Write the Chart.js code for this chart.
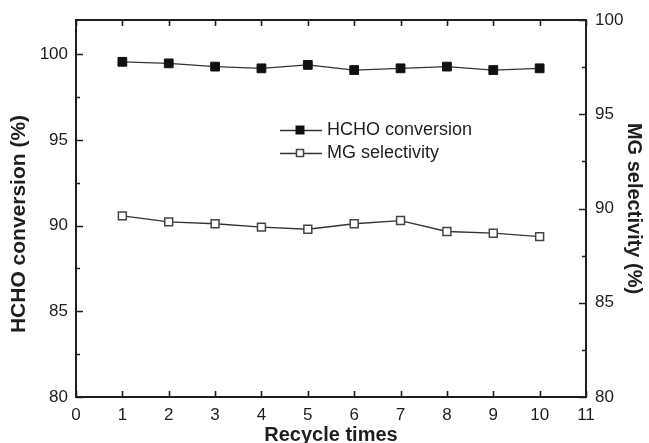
<!DOCTYPE html>
<html lang="en">
<head>
<meta charset="UTF-8">
<title>HCHO conversion / MG selectivity vs recycle times</title>
<script src="https://cdn.jsdelivr.net/npm/chart.js"></script>
<style>
  body { margin: 0; background: #fff; }
  canvas { display: block; }
</style>
</head>
<body>
<canvas id="grafico" width="649" height="443"></canvas>

<script>
  // data
  const recycles = [1, 2, 3, 4, 5, 6, 7, 8, 9, 10];
  const hchoConversion = [99.56, 99.47, 99.28, 99.18, 99.38, 99.08, 99.18, 99.28, 99.08, 99.18];
  const mgSelectivity = [89.61, 89.29, 89.19, 89.01, 88.90, 89.19, 89.36, 88.78, 88.69, 88.51];

  const xTicks = [0, 1, 2, 3, 4, 5, 6, 7, 8, 9, 10, 11];
  const leftTicks = [80, 85, 90, 95, 100];
  const rightTicks = [80, 85, 90, 95, 100];
  const minorTicks = [82.5, 87.5, 92.5, 97.5];

  const ink = '#1e1e1e';
  Chart.defaults.font.family = '"Liberation Sans", Arial, sans-serif';
  Chart.defaults.color = ink;

  const pts = (ys) => recycles.map((x, i) => ({ x: x, y: ys[i] }));

  // frame + inward ticks (like origin plots)
  const frameTicks = {
    id: 'frameTicks',
    afterDraw(chart) {
      const { ctx, chartArea: a, scales } = chart;
      ctx.save();
      ctx.strokeStyle = ink;
      ctx.lineWidth = 1.6;
      ctx.beginPath();
      xTicks.forEach(v => {
        const px = Math.round(scales.x.getPixelForValue(v)) + 0.5;
        ctx.moveTo(px, a.bottom); ctx.lineTo(px, a.bottom - 6);
        ctx.moveTo(px, a.top); ctx.lineTo(px, a.top + 6);
      });
      leftTicks.forEach(v => {
        const py = Math.round(scales.y.getPixelForValue(v)) + 0.5;
        ctx.moveTo(a.left, py); ctx.lineTo(a.left + 7, py);
      });
      rightTicks.forEach(v => {
        const py = Math.round(scales.y1.getPixelForValue(v)) + 0.5;
        ctx.moveTo(a.right, py); ctx.lineTo(a.right - 7, py);
      });
      minorTicks.forEach(v => {
        const pl = Math.round(scales.y.getPixelForValue(v)) + 0.5;
        ctx.moveTo(a.left, pl); ctx.lineTo(a.left + 4, pl);
        const pr = Math.round(scales.y1.getPixelForValue(v)) + 0.5;
        ctx.moveTo(a.right, pr); ctx.lineTo(a.right - 4, pr);
      });
      ctx.stroke();
      ctx.lineWidth = 2;
      ctx.strokeRect(a.left, a.top, a.right - a.left, a.bottom - a.top);

      // left axis title sits a bit lower than the plot centre in the original
      ctx.font = 'bold 21px "Liberation Sans", Arial, sans-serif';
      ctx.fillStyle = ink;
      ctx.textAlign = 'center';
      ctx.textBaseline = 'middle';
      ctx.translate(19, 224);
      ctx.rotate(-Math.PI / 2);
      ctx.fillText('HCHO conversion (%)', 0, 0);
      ctx.restore();
    }
  };

  // legend inside the plot area
  const innerLegend = {
    id: 'innerLegend',
    afterDraw(chart) {
      const { ctx } = chart;
      const x0 = 280, x1 = 322, xm = 300;
      ctx.save();
      ctx.font = '18px "Liberation Sans", Arial, sans-serif';
      ctx.textBaseline = 'middle';
      chart.data.datasets.forEach((ds, i) => {
        const y = 130 + i * 23;
        ctx.strokeStyle = ds.borderColor;
        ctx.lineWidth = 1.3;
        ctx.beginPath();
        ctx.moveTo(x0, y + 0.5); ctx.lineTo(x1, y + 0.5);
        ctx.stroke();
        const s = i === 0 ? 8 : 7;
        ctx.fillStyle = ds.pointBackgroundColor;
        ctx.fillRect(xm - s / 2, y - s / 2, s, s);
        ctx.strokeStyle = ds.pointBorderColor;
        ctx.lineWidth = ds.pointBorderWidth;
        ctx.strokeRect(xm - s / 2, y - s / 2, s, s);
        ctx.fillStyle = ink;
        ctx.fillText(ds.label, 327, y);
      });
      ctx.restore();
    }
  };

  new Chart(document.getElementById('grafico').getContext('2d'), {
    type: 'line',
    data: {
      datasets: [{
        label: 'HCHO conversion',
        data: pts(hchoConversion),
        yAxisID: 'y',
        borderColor: '#333',
        borderWidth: 1.3,
        pointStyle: 'rect',
        pointRadius: 6.2,
        pointBackgroundColor: '#111',
        pointBorderColor: '#111',
        pointBorderWidth: 1,
        tension: 0
      }, {
        label: 'MG selectivity',
        data: pts(mgSelectivity),
        yAxisID: 'y1',
        borderColor: '#333',
        borderWidth: 1.3,
        pointStyle: 'rect',
        pointRadius: 5.6,
        pointBackgroundColor: '#fff',
        pointBorderColor: '#444',
        pointBorderWidth: 1.5,
        tension: 0
      }]
    },
    options: {
      responsive: false,
      animation: false,
      events: [],
      layout: { padding: { top: 20, left: 0, right: 0, bottom: 0 } },
      plugins: { legend: { display: false }, tooltip: { enabled: false } },
      scales: {
        x: {
          type: 'linear',
          min: 0, max: 11,
          afterBuildTicks: s => { s.ticks = xTicks.map(v => ({ value: v })); },
          afterFit: s => { s.height = 46; },
          grid: { display: false, drawTicks: false },
          border: { display: false },
          ticks: { font: { size: 17 }, padding: 8, maxRotation: 0 },
          title: { display: true, text: 'Recycle times', font: { size: 20, weight: 'bold' }, padding: { top: 0, bottom: -4 } }
        },
        y: {
          position: 'left',
          min: 80, max: 102,
          afterBuildTicks: s => { s.ticks = leftTicks.map(v => ({ value: v })); },
          afterFit: s => { s.width = 76; },
          grid: { display: false, drawTicks: false },
          border: { display: false },
          ticks: { font: { size: 17 }, padding: 8 },
          title: { display: false }
        },
        y1: {
          position: 'right',
          min: 80, max: 100,
          afterBuildTicks: s => { s.ticks = rightTicks.map(v => ({ value: v })); },
          afterFit: s => { s.width = 63; },
          grid: { display: false, drawTicks: false },
          border: { display: false },
          ticks: { font: { size: 17 }, padding: 9 },
          title: { display: true, text: 'MG selectivity (%)', font: { size: 20, weight: 'bold' }, padding: { top: 3, bottom: 0 } }
        }
      }
    },
    plugins: [frameTicks, innerLegend]
  });
</script>

</body>
</html>
